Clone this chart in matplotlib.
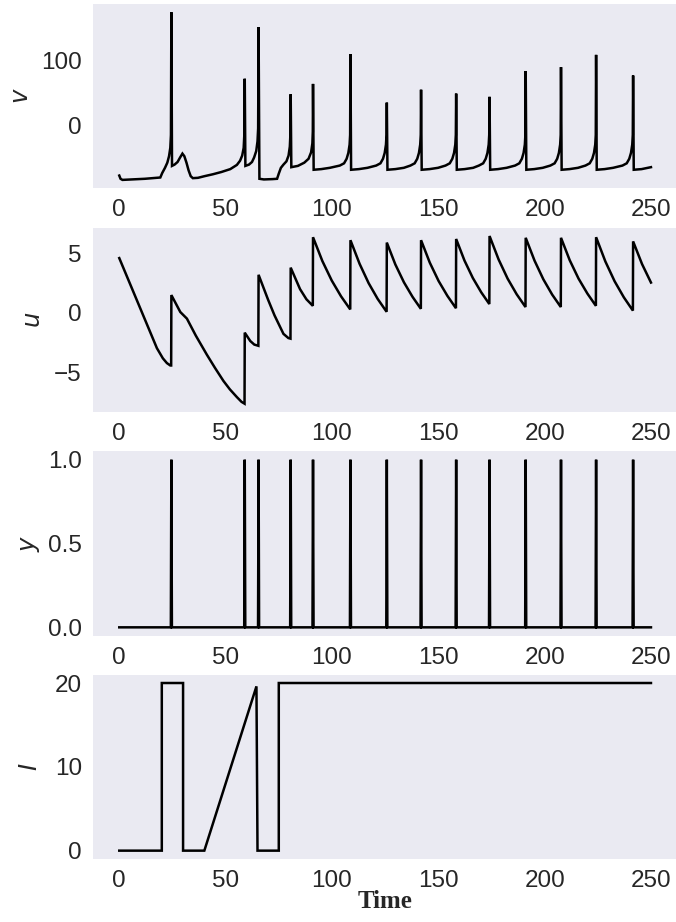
import numpy as np
import matplotlib
matplotlib.use("Agg")
import matplotlib.pyplot as plt

# ---------------- data ----------------
# spike instants (ms) and the membrane potential reached at each spike
spike_times = [24.5, 59.0, 65.5, 80.6, 91.1, 108.7, 125.8, 141.9, 158.4,
               174.1, 191.1, 207.7, 224.2, 241.6]
v_peaks = [175, 72, 152, 48, 64, 110, 35, 55, 49, 44, 84, 90, 109, 77]

# sub-threshold membrane potential v (time, value)
v_sub_time = [
    0.0, 0.6, 1.5, 6.0, 12.0, 19.3, 20.2, 21.5, 22.6, 23.4, 24.0, 24.3,
    24.8, 26.0, 27.4, 28.6, 29.7, 30.6, 31.6, 32.6, 33.6, 34.6, 37.0, 40.0,
    44.0, 48.0, 52.2, 55.3, 56.8, 57.8, 58.5, 58.8,
    59.3, 61.0, 62.4, 63.4, 64.4, 65.0, 65.3,
    65.9, 68.0, 72.0, 74.2, 75.0, 76.0, 77.2, 78.6, 79.6, 80.2, 80.45,
    80.9, 84.0, 87.0, 89.0, 90.2, 90.8, 91.0,
    91.4, 95.0, 99.0, 103.7, 105.7, 106.9, 107.7, 108.3, 108.55,
    109.0, 112.7, 116.7, 120.8, 122.8, 124.0, 124.8, 125.4, 125.65,
    126.1, 129.8, 133.8, 136.9, 138.9, 140.1, 140.9, 141.5, 141.75,
    142.2, 145.9, 149.9, 153.4, 155.4, 156.6, 157.4, 158.0, 158.25,
    158.7, 162.4, 166.4, 169.1, 171.1, 172.3, 173.1, 173.7, 173.95,
    174.4, 178.1, 182.1, 186.1, 188.1, 189.3, 190.1, 190.7, 190.95,
    191.4, 195.1, 199.1, 202.7, 204.7, 205.9, 206.7, 207.3, 207.55,
    208.0, 211.7, 215.7, 219.2, 221.2, 222.4, 223.2, 223.8, 224.05,
    224.5, 228.2, 232.2, 236.6, 238.6, 239.8, 240.6, 241.2, 241.45,
    241.9, 245.6, 250.0,
]
v_sub_value = [
    -78, -83, -84.7, -84, -83, -81, -74, -66, -58, -48, -35, -15,
    -63, -61, -57, -50, -44, -48, -58, -70, -79, -82, -81.5, -79,
    -76, -72.5, -68, -61.5, -55, -47, -35, -15,
    -63, -61, -57, -50, -40, -25, -5,
    -83, -84, -83.5, -83, -75, -66, -61, -56, -47, -33, -15,
    -65, -63, -58, -52, -42, -28, -10,
    -69, -68, -66, -62.5, -59, -52, -43, -30, -15,
    -69, -68, -66, -62.5, -59, -52, -43, -30, -15,
    -69, -68, -66, -62.5, -59, -52, -43, -30, -15,
    -69, -68, -66, -62.5, -59, -52, -43, -30, -15,
    -69, -68, -66, -62.5, -59, -52, -43, -30, -15,
    -69, -68, -66, -62.5, -59, -52, -43, -30, -15,
    -69, -68, -66, -62.5, -59, -52, -43, -30, -15,
    -69, -68, -66, -62.5, -59, -52, -43, -30, -15,
    -69, -68, -66, -62.5, -59, -52, -43, -30, -15,
    -69, -68, -65,
]

# recovery variable u (time, value); jumps happen at the spike instants
u_time = [
    0.0, 17.7, 20.5, 22.4, 24.0, 24.4,
    24.5, 28.7, 31.8, 36.0, 41.2, 45.0, 49.0, 52.0, 55.3, 57.5, 58.9,
    59.0, 61.6, 63.5, 65.4,
    65.5, 70.0, 73.0, 77.2, 79.5, 80.5,
    80.6, 85.0, 88.0, 91.0,
    91.1, 95.5, 99.9, 104.3, 108.6,
    108.7, 113.0, 117.25, 121.5, 125.7,
    125.8, 129.8, 133.85, 137.9, 141.8,
    141.9, 146.0, 150.15, 154.3, 158.3,
    158.4, 162.3, 166.25, 170.2, 174.0,
    174.1, 178.35, 182.6, 186.85, 191.0,
    191.1, 195.25, 199.4, 203.55, 207.6,
    207.7, 211.8, 215.95, 220.1, 224.1,
    224.2, 228.55, 232.9, 237.25, 241.5,
    241.6, 245.8, 250.0,
]
u_value = [
    4.6, -2.95, -3.8, -4.2, -4.4, -4.4,
    1.5, 0.08, -0.47, -1.9, -3.5, -4.6, -5.7, -6.4, -7.05, -7.45, -7.6,
    -1.65, -2.35, -2.65, -2.75,
    3.2, 1.1, -0.2, -1.75, -2.1, -2.15,
    3.8, 2.0, 1.15, 0.6,
    6.35, 4.35, 2.72, 1.39, 0.3,
    6.1, 4.12, 2.5, 1.18, 0.1,
    5.9, 4.07, 2.57, 1.35, 0.35,
    6.1, 4.22, 2.68, 1.43, 0.4,
    6.2, 4.4, 2.93, 1.73, 0.75,
    6.45, 4.49, 2.88, 1.57, 0.5,
    6.3, 4.39, 2.82, 1.54, 0.5,
    6.3, 4.42, 2.88, 1.63, 0.6,
    6.35, 4.32, 2.66, 1.31, 0.2,
    6.0, 4.1, 2.55,
]

# injected current I (time, value)
I_time = [0, 20, 20, 30, 30, 40, 64.5, 65, 75, 75, 250]
I_value = [0, 0, 20, 20, 0, 0, 19.6, 0, 0, 20, 20]

t_start, t_end = 0.0, 250.0
spike_halfwidth = 0.25

# ---------------- assemble traces ----------------
v_time = np.array(v_sub_time + spike_times)
v_value = np.array(v_sub_value + v_peaks)
order = np.argsort(v_time, kind="stable")
v_time, v_value = v_time[order], v_value[order]

y_time = [t_start]
y_value = [0.0]
for s in spike_times:
    y_time += [s - spike_halfwidth, s, s + spike_halfwidth]
    y_value += [0.0, 1.0, 0.0]
y_time.append(t_end)
y_value.append(0.0)

# ---------------- figure ----------------
plt.rcParams["font.family"] = ["Liberation Sans", "DejaVu Sans"]
plt.rcParams["axes.unicode_minus"] = True
TXT = "#262626"
BG = "#EAEAF2"
FS = 17.5

fig = plt.figure(figsize=(6.76, 9.22), dpi=100)
left, width, height = 0.1371, 0.8652, 0.2
bottoms = [0.7958, 0.5531, 0.3105, 0.0683]

# label name and horizontal centre of the y-label (axes fraction)
series = [
    (v_time, v_value, "$v$", -0.121),
    (u_time, u_value, "$u$", -0.100),
    (y_time, y_value, "$y$", -0.107),
    (I_time, I_value, "$I$", -0.105),
]

axes = []
for b, (tx, vx, lab, lx) in zip(bottoms, series):
    ax = fig.add_axes([left, b, width, height])
    ax.set_facecolor(BG)
    ax.plot(tx, vx, color="black", lw=1.8, solid_joinstyle="miter")
    ax.set_ylabel(lab, fontsize=FS, color=TXT)
    ax.yaxis.set_label_coords(lx, 0.5)
    ax.yaxis.label.set_verticalalignment("center")
    ax.set_xticks([0, 50, 100, 150, 200, 250])
    ax.tick_params(axis="both", length=0, pad=7.8, labelsize=FS,
                   labelcolor=TXT)
    for sp in ax.spines.values():
        sp.set_visible(False)
    ax.grid(False)
    axes.append(ax)

axes[0].set_yticks([0, 100])
axes[1].set_yticks([-5, 0, 5])
axes[2].set_yticks([0.0, 0.5, 1.0])
axes[2].set_yticklabels(["0.0", "0.5", "1.0"])
axes[3].set_yticks([0, 10, 20])

axes[3].set_xlabel("Time", fontfamily="Liberation Serif", fontweight="bold",
                   fontsize=18, color=TXT, labelpad=-1)

fig.savefig("out.png", dpi=100)
